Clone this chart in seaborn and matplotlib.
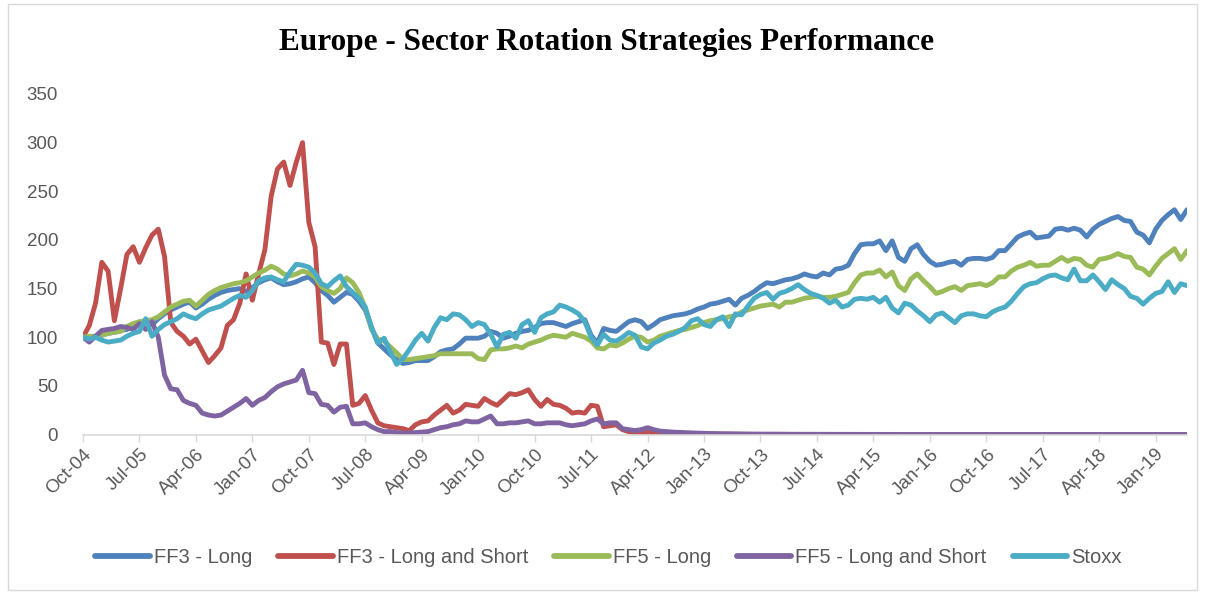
import numpy as np
import pandas as pd
import matplotlib
matplotlib.use("Agg")
import matplotlib.pyplot as plt
import seaborn as sns
from matplotlib.patches import Rectangle

# ---------------- data (monthly, Oct-04 .. Jun-19) ----------------
series_names = ["FF3 - Long", "FF3 - Long and Short", "FF5 - Long",
                "FF5 - Long and Short", "Stoxx"]

ff3_long = [
    100, 97, 100, 102, 104, 105, 107, 108, 112, 114,
    115, 113, 119, 124, 128, 131, 134, 136, 130, 134,
    139, 143, 146, 148, 149, 150, 147, 151, 156, 159,
    161, 157, 154, 155, 157, 160, 162, 156, 148, 143,
    136, 141, 146, 144, 137, 128, 110, 94, 88, 82,
    77, 73, 74, 76, 76, 76, 80, 85, 87, 88,
    93, 99, 99, 99, 101, 106, 104, 99, 101, 104,
    106, 107, 110, 114, 115, 115, 113, 111, 114, 116,
    118, 102, 94, 109, 107, 106, 111, 116, 118, 116,
    109, 113, 118, 120, 122, 123, 124, 126, 129, 131,
    134, 135, 137, 139, 133, 140, 143, 147, 152, 156,
    155, 157, 159, 160, 162, 165, 163, 162, 166, 164,
    170, 171, 174, 186, 195, 196, 196, 199, 189, 199,
    182, 178, 191, 195, 185, 178, 174, 175, 177, 178,
    174, 180, 181, 181, 180, 182, 189, 189, 196, 203,
    206, 208, 202, 203, 204, 211, 212, 210, 212, 210,
    203, 211, 216, 219, 222, 224, 220, 219, 208, 205,
    197, 211, 220, 226, 231, 221, 231,
]

ff3_long_short = [
    100, 112, 135, 177, 168, 117, 150, 185, 193, 177,
    192, 205, 211, 183, 115, 106, 101, 93, 98, 86,
    74, 81, 89, 112, 118, 135, 165, 138, 165, 190,
    245, 273, 280, 256, 280, 300, 218, 193, 95, 94,
    72, 93, 93, 30, 32, 40, 25, 12, 9, 8,
    7, 6, 4, 10, 13, 14, 20, 25, 30, 22,
    25, 31, 30, 29, 37, 33, 30, 36, 42, 41,
    43, 46, 36, 29, 36, 31, 30, 27, 22, 23,
    22, 30, 29, 8, 9, 10, 5, 3, 2, 2,
    2, 1.5, 1.2, 1.0, 0.9, 0.8, 0.7, 0.6, 0.5, 0.5,
    0.4, 0.4, 0.3, 0.3, 0.3, 0.2, 0.2, 0.2, 0.2, 0.1,
    0.1, 0.1, 0.1, 0.1, 0.1, 0.1, 0.1, 0.1, 0.1, 0.1,
    0.0, 0.0, 0.0, 0.0, 0.0, 0.0, 0.0, 0.0, 0.0, 0.0,
    0.0, 0.0, 0.0, 0.0, 0.0, 0.0, 0.0, 0.0, 0.0, 0.0,
    0.0, 0.0, 0.0, 0.0, 0.0, 0.0, 0.0, 0.0, 0.0, 0.0,
    0.0, 0.0, 0.0, 0.0, 0.0, 0.0, 0.0, 0.0, 0.0, 0.0,
    0.0, 0.0, 0.0, 0.0, 0.0, 0.0, 0.0, 0.0, 0.0, 0.0,
    0.0, 0.0, 0.0, 0.0, 0.0, 0.0, 0.0,
]

ff5_long = [
    100, 101, 101, 102, 104, 105, 106, 111, 114, 116,
    117, 118, 121, 126, 131, 134, 137, 138, 132, 138,
    144, 148, 151, 153, 155, 156, 158, 162, 166, 169,
    173, 170, 165, 163, 165, 168, 166, 162, 152, 148,
    145, 150, 161, 156, 146, 130, 108, 98, 96, 90,
    84, 77, 77, 78, 79, 80, 81, 83, 83, 83,
    83, 83, 83, 78, 77, 87, 88, 88, 89, 91,
    89, 93, 95, 97, 100, 102, 101, 100, 104, 102,
    100, 96, 89, 88, 92, 91, 94, 98, 101, 100,
    95, 97, 101, 103, 105, 107, 108, 110, 112, 115,
    117, 118, 119, 121, 122, 126, 128, 130, 132, 133,
    134, 131, 136, 136, 138, 140, 141, 142, 141, 141,
    142, 144, 146, 156, 164, 166, 166, 169, 162, 167,
    153, 148, 160, 165, 158, 152, 145, 147, 150, 152,
    148, 153, 154, 155, 153, 156, 162, 162, 168, 172,
    174, 177, 173, 174, 174, 178, 182, 178, 181, 180,
    174, 172, 180, 181, 183, 186, 183, 182, 172, 170,
    164, 173, 181, 186, 191, 180, 189,
]

ff5_long_short = [
    100, 95, 101, 107, 108, 109, 111, 110, 108, 114,
    108, 116, 100, 61, 47, 46, 35, 32, 30, 22,
    20, 19, 20, 24, 28, 32, 37, 30, 35, 38,
    44, 49, 52, 54, 56, 66, 43, 42, 31, 30,
    23, 28, 29, 11, 11, 12, 8, 5, 3, 3,
    2, 1.5, 1.5, 2, 2.5, 3, 5, 7, 8, 10,
    11, 14, 13, 13, 16, 19, 11, 11, 12, 12,
    13, 14, 11, 11, 12, 12, 12, 10, 9, 10,
    11, 14, 16, 11, 12, 12, 6, 5, 4, 5,
    7, 5, 3.5, 3, 2.5, 2.2, 2, 1.7, 1.4, 1.2,
    1.0, 0.9, 0.8, 0.7, 0.6, 0.5, 0.5, 0.4, 0.4, 0.3,
    0.3, 0.3, 0.2, 0.2, 0.2, 0.2, 0.1, 0.1, 0.1, 0.1,
    0.1, 0.1, 0.1, 0.1, 0.1, 0.1, 0.1, 0.1, 0.1, 0.1,
    0.0, 0.0, 0.0, 0.0, 0.0, 0.0, 0.0, 0.0, 0.0, 0.0,
    0.0, 0.0, 0.0, 0.0, 0.0, 0.0, 0.0, 0.0, 0.0, 0.0,
    0.0, 0.0, 0.0, 0.0, 0.0, 0.0, 0.0, 0.0, 0.0, 0.0,
    0.0, 0.0, 0.0, 0.0, 0.0, 0.0, 0.0, 0.0, 0.0, 0.0,
    0.0, 0.0, 0.0, 0.0, 0.0, 0.0, 0.0,
]

stoxx = [
    100, 98, 100, 97, 95, 96, 97, 101, 104, 106,
    119, 101, 108, 113, 116, 119, 124, 121, 119, 124,
    128, 130, 132, 136, 140, 143, 141, 148, 158, 161,
    162, 159, 157, 167, 175, 174, 172, 166, 155, 152,
    158, 163, 152, 146, 140, 131, 110, 94, 99, 85,
    72, 78, 87, 97, 104, 96, 110, 120, 118, 124,
    123, 118, 111, 115, 113, 103, 90, 103, 105, 99,
    113, 117, 105, 120, 124, 126, 133, 131, 128, 124,
    116, 100, 92, 103, 97, 96, 100, 105, 102, 90,
    88, 94, 97, 101, 103, 106, 110, 117, 119, 113,
    111, 118, 121, 111, 124, 123, 132, 140, 144, 146,
    139, 145, 147, 150, 154, 149, 145, 143, 140, 135,
    138, 131, 133, 139, 140, 139, 141, 136, 141, 130,
    125, 135, 133, 127, 122, 116, 123, 125, 120, 115,
    122, 124, 124, 122, 121, 126, 129, 131, 137, 145,
    152, 155, 156, 160, 163, 164, 161, 159, 170, 158,
    158, 164, 157, 149, 159, 154, 150, 142, 140, 134,
    140, 145, 147, 157, 146, 155, 153,
]

tick_labels = ["Oct-04", "Jul-05", "Apr-06", "Jan-07", "Oct-07", "Jul-08",
               "Apr-09", "Jan-10", "Oct-10", "Jul-11", "Apr-12", "Jan-13",
               "Oct-13", "Jul-14", "Apr-15", "Jan-16", "Oct-16", "Jul-17",
               "Apr-18", "Jan-19"]
y_ticks = [0, 50, 100, 150, 200, 250, 300, 350]

# ---------------- styling ----------------
colors = ["#4F81BD", "#C0504D", "#9BBB59", "#8064A2", "#4BACC6"]
gray = "#595959"

sns.set_theme(style="white")
plt.rcParams["font.family"] = ["Liberation Sans", "DejaVu Sans"]

n = len(ff3_long)
month_idx = np.arange(n)
df = pd.DataFrame({
    "month": month_idx,
    series_names[0]: ff3_long,
    series_names[1]: ff3_long_short,
    series_names[2]: ff5_long,
    series_names[3]: ff5_long_short,
    series_names[4]: stoxx,
})
long_df = df.melt(id_vars="month", var_name="series", value_name="value")

fig = plt.figure(figsize=(12.05, 5.94), dpi=100)
ax = fig.add_axes([83 / 1205, 0.2685, (1187 - 83) / 1205, 0.5733])

sns.lineplot(data=long_df, x="month", y="value", hue="series",
             hue_order=series_names, palette=colors, linewidth=3.5,
             sort=False, ax=ax, legend=True,
             solid_capstyle="round", solid_joinstyle="round")

ax.set_xlim(0, n - 1)
ax.set_ylim(0, 350)
ax.set_xlabel("")
ax.set_ylabel("")

tick_pos = np.arange(len(tick_labels)) * 9
ax.set_xticks(tick_pos)
ax.set_xticklabels(tick_labels, rotation=45, ha="right",
                   rotation_mode="anchor")
ax.set_yticks(y_ticks)
ax.set_yticklabels([str(v) for v in y_ticks])

ax.tick_params(axis="y", length=0, labelsize=13.5, labelcolor=gray, pad=18)
ax.tick_params(axis="x", length=5, width=1, color="#d9d9d9",
               direction="out", labelsize=13.5, labelcolor=gray, pad=3,
               bottom=True)
for side in ["top", "right", "left"]:
    ax.spines[side].set_visible(False)
ax.spines["bottom"].set_color("#d9d9d9")
ax.spines["bottom"].set_linewidth(1.2)
ax.grid(False)

handles, labels = ax.get_legend_handles_labels()
ax.get_legend().remove()
for h in handles:
    h.set_linewidth(4.2)
fig.legend(handles, labels, loc="center", bbox_to_anchor=(0.505, 0.062),
           ncol=5, frameon=False, fontsize=14.5, handlelength=2.7,
           handletextpad=0.2, columnspacing=1.3, labelcolor=gray)

fig.text(0.503, 0.929, "Europe - Sector Rotation Strategies Performance",
         ha="center", va="center", fontsize=22.5, fontweight="bold",
         family=["Liberation Serif", "DejaVu Serif"], color="black")

fig.patches.append(Rectangle((8 / 1205, 4 / 594), 1189 / 1205, 586 / 594,
                             transform=fig.transFigure, fill=False,
                             edgecolor="#d9d9d9", linewidth=1))

fig.savefig("out.png", dpi=100, facecolor="white")
